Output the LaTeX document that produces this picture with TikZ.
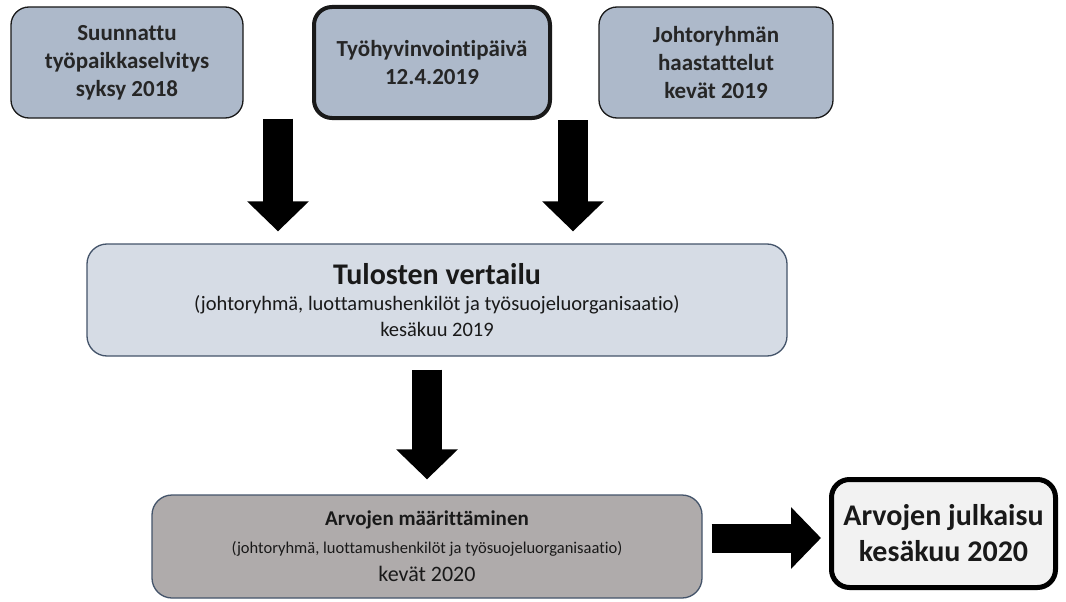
\documentclass[tikz,border=0pt]{standalone}
\usepackage{fontspec}
\setmainfont[Ligatures=NoCommon]{Carlito}
\usetikzlibrary{arrows.meta}
\definecolor{topfill}{HTML}{ADB9CA}
\definecolor{midfill}{HTML}{D6DCE5}
\definecolor{grayfill}{HTML}{AFABAB}
\definecolor{lightfill}{HTML}{F2F2F2}
\definecolor{blueedge}{HTML}{44546A}
\tikzset{
  topbox/.style={draw=black!90, line width=1.3pt, fill=topfill, rounded corners=18pt,
    align=center, font=\fontsize{23}{28}\selectfont\bfseries, text=black!85, inner sep=2pt},
  thickbox/.style={topbox, line width=4pt},
  midbox/.style={draw=blueedge, line width=1.3pt, fill=midfill, rounded corners=20pt,
    align=center, text=black!90, inner sep=2pt},
  graybox/.style={draw=blueedge, line width=1.3pt, fill=grayfill, rounded corners=20pt,
    align=center, text=black!90, inner sep=2pt},
  endbox/.style={draw=black, line width=5pt, fill=lightfill, rounded corners=18pt,
    align=center, font=\fontsize{30}{36}\selectfont\bfseries, text=black!90, inner sep=2pt},
  bigarrow/.style={line width=30pt, draw=black, -{Triangle[width=60pt,length=30pt]}},
}
\begin{document}
\begin{tikzpicture}[x=1pt,y=-1pt]
\useasboundingbox[fill=white] (0,0) rectangle (1066,602);
% top row
\node[topbox, minimum width=232pt, minimum height=111pt] (b1) at (127,62.5)
  {Suunnattu\\työpaikkaselvitys\\syksy 2018};
\node[thickbox, minimum width=236pt, minimum height=111pt] (b2) at (432,62.5)
  {Työhyvinvointipäivä\\12.4.2019};
\node[topbox, minimum width=234pt, minimum height=111pt] (b3) at (716,62.5)
  {Johtoryhmän\\haastattelut\\kevät 2019};
% middle
\node[midbox, minimum width=700pt, minimum height=112pt, font=\fontsize{20.5}{26}\selectfont] (b4) at (437,300)
  {{\fontsize{30}{32}\selectfont\bfseries Tulosten vertailu}\\(johtoryhmä, luottamushenkilöt ja työsuojeluorganisaatio)\\kesäkuu 2019};
% bottom
\node[graybox, minimum width=550pt, minimum height=103pt, font=\fontsize{22}{28}\selectfont] (b5) at (427,546.5)
  {{\fontsize{21}{24}\selectfont\bfseries Arvojen määrittäminen}\\{\fontsize{16.5}{23}\selectfont (johtoryhmä, luottamushenkilöt ja työsuojeluorganisaatio)}\\kevät 2020};
\node[endbox, minimum width=224pt, minimum height=108pt] (b6) at (943.5,533.5)
  {Arvojen julkaisu\\kesäkuu 2020};
% arrow positions
\coordinate (x1) at (278,0);
\coordinate (x2) at (573,0);
\coordinate (x3) at (427,0);
\coordinate (y4) at (0,538);
% arrows
\draw[bigarrow, shorten >=12pt] (b1.south -| x1) -- (b4.north -| x1);
\draw[bigarrow, shorten >=12pt] (b2.south -| x2) -- (b4.north -| x2);
\draw[bigarrow, shorten <=13pt, shorten >=15pt] (b4.south -| x3) -- (b5.north -| x3);
\draw[bigarrow, line width=29pt, shorten <=9pt, shorten >=8pt] (b5.east |- y4) -- (b6.west |- y4);
\end{tikzpicture}
\end{document}
